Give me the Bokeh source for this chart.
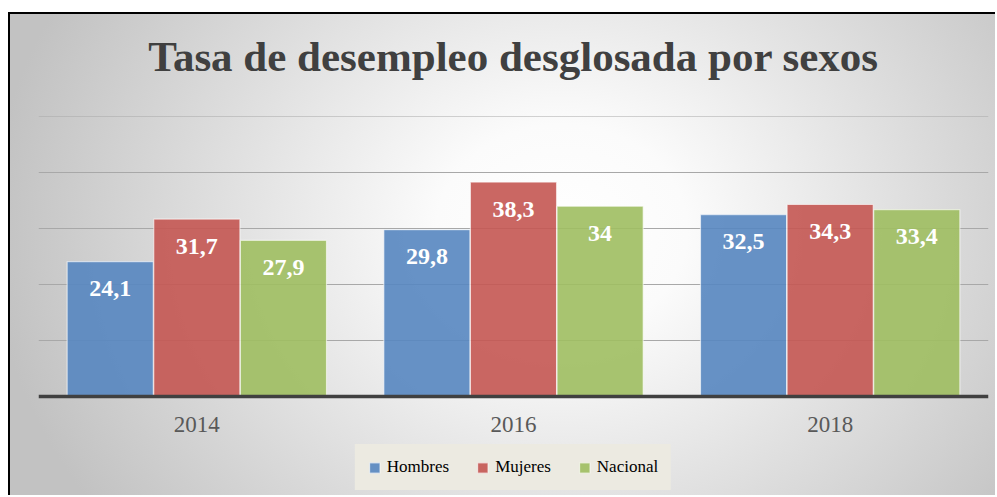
from bokeh.plotting import figure
from bokeh.models import ColumnDataSource, FactorRange, Legend, LegendItem, FixedTicker, Range1d
from bokeh.transform import dodge
from bokeh.core.properties import value
from bokeh.embed import file_html
from bokeh.resources import INLINE

years = ["2014", "2016", "2018"]
hombres = [24.1, 29.8, 32.5]
mujeres = [31.7, 38.3, 34.3]
nacional = [27.9, 34.0, 33.4]
series_names = ["Hombres", "Mujeres", "Nacional"]
colors = ["#5686C0", "#C45652", "#9FBE61"]
grid_ticks = [10, 20, 30, 40, 50]

def fmt(v):
    return f"{v:g}".replace(".", ",")

src = ColumnDataSource(dict(
    year=years, hombres=hombres, mujeres=mujeres, nacional=nacional,
    lh=[fmt(v) for v in hombres], lm=[fmt(v) for v in mujeres], ln=[fmt(v) for v in nacional],
))

p = figure(x_range=FactorRange(*years), y_range=Range1d(-16.79, 50.02),
           width=987, height=483, output_backend="svg", toolbar_location=None,
           min_border_left=28, min_border_right=9, min_border_top=102, min_border_bottom=7)
p.title.text = "Tasa de desempleo desglosada por sexos"
p.title.text_font = "Liberation Serif"
p.title.text_font_style = "bold"
p.title.text_font_size = "43px"
p.title.text_color = "#404040"
p.title.align = "center"
p.title.offset = 0
p.title.standoff = 28
p.title.padding = dict(top=0, right=0, bottom=23, left=0)

p.background_fill_alpha = 0
p.border_fill_alpha = 0
p.outline_line_color = None
p.styles = {
    "margin-top": "12px",
    "margin-left": "8px",
    "border-top": "2px solid #000000",
    "border-left": "2px solid #000000",
    "background": "radial-gradient(ellipse 58% 100% at 56% 45%, #ffffff 0%, #fbfbfb 22%, #c2c2c2 100%)",
}

p.xgrid.visible = False
p.ygrid.ticker = FixedTicker(ticks=grid_ticks)
p.ygrid.grid_line_color = "#a8a8a8"
p.ygrid.grid_line_width = 1
p.yaxis.visible = False

p.xaxis.fixed_location = 0
p.xaxis.axis_line_color = "#404040"
p.xaxis.axis_line_width = 3.5
p.xaxis.major_tick_line_color = None
p.xaxis.minor_tick_line_color = None
p.xaxis.major_label_text_font = "Liberation Serif"
p.xaxis.major_label_text_font_size = "23px"
p.xaxis.major_label_text_color = "#595959"
p.xaxis.major_label_standoff = 14
p.x_range.range_padding = 0

offs = [-0.2735, 0.0, 0.2735]
cols = ["hombres", "mujeres", "nacional"]
lcols = ["lh", "lm", "ln"]
items = []
for name, col, lcol, off, c in zip(series_names, cols, lcols, offs, colors):
    r = p.vbar(x=dodge("year", off, range=p.x_range), top=col, width=0.272, source=src,
               fill_color=c, fill_alpha=0.9, line_color="#ffffff", line_alpha=0.6, line_width=1.2)
    items.append(LegendItem(label=name, renderers=[r]))
    p.text(x=dodge("year", off, range=p.x_range), y=col, text=lcol, source=src,
           text_font=value("Liberation Serif"), text_font_style="bold", text_font_size="24px",
           text_color="#ffffff", text_align="center", text_baseline="middle", y_offset=27)

legend = Legend(items=items, orientation="horizontal", location="bottom_center")
legend.margin = 0
legend.padding = 13
legend.spacing = 27
legend.glyph_width = 13
legend.glyph_height = 13
legend.label_standoff = 6
legend.label_height = 13
legend.label_text_font = "Liberation Serif"
legend.label_text_font_size = "17px"
legend.label_text_color = "#000000"
legend.background_fill_color = "#ECEAE1"
legend.background_fill_alpha = 1
legend.border_line_alpha = 0
p.add_layout(legend, "center")

open("out.html", "w").write(file_html(p, INLINE))
